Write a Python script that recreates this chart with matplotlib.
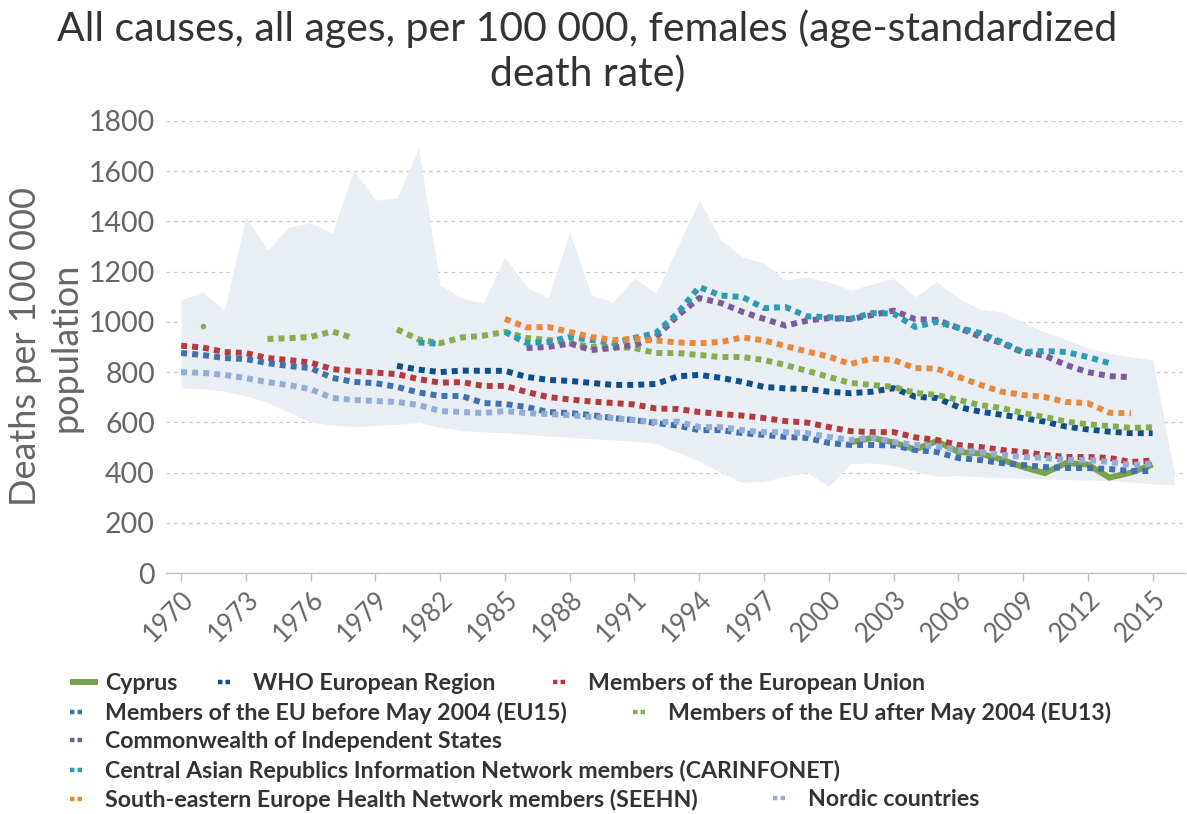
import matplotlib
matplotlib.use("Agg")
import matplotlib.pyplot as plt
from matplotlib.lines import Line2D
import numpy as np

nan = np.nan

# years for the series (1970-2015) and for the range band (1970-2016)
years = list(range(1970, 2016))
band_years = list(range(1970, 2017))

band_upper = [1087, 1119, 1047, 1418, 1286, 1378, 1394, 1354, 1605, 1485,
              1493, 1692, 1147, 1095, 1075, 1260, 1140, 1095, 1358, 1107,
              1079, 1175, 1115, 1300, 1485, 1326, 1258, 1234, 1167, 1179,
              1160, 1127, 1150, 1175, 1100, 1160, 1095, 1050, 1040, 1000,
              960, 930, 895, 875, 860, 850, 400]
band_lower = [737, 733, 725, 705, 680, 640, 600, 590, 582, 588,
              592, 600, 580, 568, 562, 558, 552, 545, 540, 535,
              530, 525, 515, 480, 445, 400, 360, 365, 385, 400,
              345, 435, 438, 428, 405, 385, 388, 383, 380, 378,
              375, 372, 370, 368, 362, 355, 350]

cyprus = [nan] * 31 + [520, 538, 520, 492, 525, 482, 476, 452, 422, 398,
                       438, 432, 380, 400, 432]

who_europe = [nan] * 10 + [825, 810, 800, 806, 805, 805, 781, 769, 765, 757,
                           749, 749, 753, 783, 789, 777, 761, 741, 735, 733,
                           722, 716, 722, 736, 702, 697, 661, 643, 630, 617,
                           603, 583, 572, 563, 557, 557]

eu = [905, 898, 880, 876, 856, 848, 838, 812, 804, 798,
      792, 772, 758, 760, 745, 745, 721, 701, 691, 683,
      677, 671, 655, 653, 641, 633, 627, 617, 605, 599,
      581, 565, 561, 561, 540, 530, 510, 502, 490, 482,
      470, 462, 462, 458, 442, 448]

eu15 = [876, 868, 856, 852, 836, 824, 816, 777, 761, 756,
        741, 719, 705, 705, 677, 673, 661, 641, 637, 629,
        617, 609, 597, 587, 569, 569, 557, 550, 542, 538,
        518, 510, 510, 508, 490, 482, 458, 450, 438, 430,
        422, 418, 418, 414, 406, 406]

eu13 = [nan, 985, nan, nan, 932, 935, 940, 962, 935, nan,
        970, 930, 915, 938, 945, 960, 936, 928, 916, 900,
        900, 896, 876, 876, 868, 860, 860, 848, 828, 805,
        781, 757, 749, 741, 717, 709, 689, 669, 657, 637,
        621, 603, 592, 585, 578, 580]

cis = [nan] * 16 + [896, 900, 914, 888, 896, 908, 940, 1025, 1095, 1075,
                    1040, 1012, 985, 1005, 1015, 1011, 1027, 1045, 1011, 1008,
                    976, 942, 916, 878, 866, 828, 800, 784, 780, nan]

carinfonet = [nan] * 11 + [918, 912, nan, nan, 960, 916, 920, 940, 928,
                           916, 936, 956, 1035, 1139, 1105, 1099, 1055, 1059, 1022,
                           1019, 1012, 1035, 1033, 980, 1000, 976, 956, 920, 880,
                           884, 880, 860, 836, nan, nan]

seehn = [nan] * 15 + [1012, 978, 980, 960, 940, 928, 932, 926, 918, 915,
                      920, 938, 926, 904, 882, 862, 832, 854, 848, 816,
                      814, 781, 750, 722, 709, 701, 681, 676, 638, 636, nan]

nordic = [800, 797, 789, 776, 760, 748, 732, 697, 689, 685,
          681, 669, 645, 641, 637, 645, 637, 633, 629, 621,
          617, 609, 601, 603, 581, 581, 569, 561, 561, 557,
          542, 530, 540, 522, 510, 505, 490, 482, 470, 462,
          458, 450, 450, 442, 430, 436]

series = [
    ("Cyprus", cyprus, "#7ba24a", "solid"),
    ("WHO European Region", who_europe, "#0d4f8b", "dotted"),
    ("Members of the European Union", eu, "#b43a3d", "dotted"),
    ("Members of the EU before May 2004 (EU15)", eu15, "#3f70b0", "dotted"),
    ("Members of the EU after May 2004 (EU13)", eu13, "#86ad4c", "dotted"),
    ("Commonwealth of Independent States", cis, "#7b5b9e", "dotted"),
    ("Central Asian Republics Information Network members (CARINFONET)", carinfonet, "#2c9cb3", "dotted"),
    ("South-eastern Europe Health Network members (SEEHN)", seehn, "#e8883b", "dotted"),
    ("Nordic countries", nordic, "#93acd6", "dotted"),
]

xticks = list(range(1970, 2016, 3))
yticks = list(range(0, 1801, 200))

plt.rcParams["font.family"] = ["Lato", "DejaVu Sans"]

fig = plt.figure(figsize=(11.87, 8.14), dpi=100)
ax = fig.add_axes([166 / 1187, 1 - 573 / 814, 1019 / 1187, 452 / 814])

ax.fill_between(band_years, band_lower, band_upper, color="#e9eef5", lw=0, zorder=1)

dot = (0, (1, 0.85))
handles = []
for i, (name, vals, col, style) in enumerate(series):
    v = np.array(vals, dtype=float)
    if style == "solid":
        ax.plot(years, v, color=col, lw=4.3, solid_capstyle="butt",
                solid_joinstyle="miter", zorder=3)
        handles.append(Line2D([0], [0], color=col, lw=4.3, solid_capstyle="butt"))
    else:
        ax.plot(years, v, color=col, lw=4.3, linestyle=dot,
                dash_capstyle="butt", zorder=4 + i)
        # isolated single-year values show as a small dot
        for k in range(len(v)):
            left = v[k - 1] if k > 0 else nan
            right = v[k + 1] if k < len(v) - 1 else nan
            if not np.isnan(v[k]) and np.isnan(left) and np.isnan(right):
                ax.plot([years[k]], [v[k]], "o", color=col, ms=3, zorder=4 + i)
        handles.append(Line2D([0], [0], color=col, lw=3.2,
                              linestyle=(0, (1, 0.7, 1, 30)), dash_capstyle="butt"))

ax.set_xlim(1969.3, 2016.5)
ax.set_ylim(0, 1800)
ax.set_yticks(yticks)
ax.set_xticks(xticks)
ax.set_xticklabels([str(y) for y in xticks], rotation=45, ha="right",
                   rotation_mode="anchor", fontsize=18.5, color="#666666")
ax.tick_params(axis="y", length=0, labelsize=20.5, labelcolor="#666666", pad=8)
ax.tick_params(axis="x", length=6, width=1, color="#bfbfbf", pad=4)
ax.grid(axis="y", color="#c9c9c9", lw=0.9, linestyle=(0, (3, 3)))
ax.set_axisbelow(True)
for s in ["top", "right", "left"]:
    ax.spines[s].set_visible(False)
ax.spines["bottom"].set_color("#bfbfbf")
ax.spines["bottom"].set_linewidth(1)

ax.set_ylabel("Deaths per 100 000\npopulation", fontsize=26, color="#666666",
              linespacing=1.3, labelpad=4)

fig.text(0.495, 0.988, "All causes, all ages, per 100 000, females (age-standardized\ndeath rate)",
         ha="center", va="top", fontsize=29.5, color="#333333", linespacing=1.22)

# legend entries placed like a wrapped flow layout
legend_pos = [(70, 684), (218, 684), (553, 684),
              (70, 713), (633, 713),
              (70, 742),
              (70, 771),
              (70, 800), (773, 800)]
for (name, _, _, _), h, (px, py) in zip(series, handles, legend_pos):
    fig.legend([h], [name], loc="center left",
               bbox_to_anchor=(px / 1187, 1 - py / 814),
               frameon=False, borderpad=0, borderaxespad=0,
               handlelength=1.2, handletextpad=0.3,
               prop={"weight": "bold", "size": 16.7}, labelcolor="#333333")

fig.savefig("out.png", dpi=100)
